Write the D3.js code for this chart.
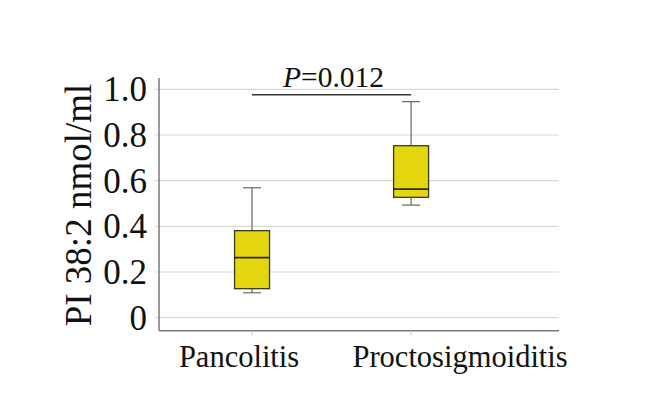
<!DOCTYPE html>
<html>
<head>
<meta charset="utf-8">
<script src="https://cdn.jsdelivr.net/npm/d3@7"></script>
<style>
  body { margin: 0; background: #fff; }
  text { font-family: "Liberation Serif", "Times New Roman", serif; fill: #111; }
</style>
</head>
<body>
<div id="chart"></div>
<script>
const categories = ["Pancolitis", "Proctosigmoiditis"];
const whiskerLow = [0.109, 0.493];
const q1 = [0.127, 0.527];
const median = [0.263, 0.563];
const q3 = [0.381, 0.753];
const whiskerHigh = [0.569, 0.946];
const yTicks = [0, 0.2, 0.4, 0.6, 0.8, 1.0];
const yTickLabels = ["0", "0.2", "0.4", "0.6", "0.8", "1.0"];
const pLabel = "0.012";
const pLineY = 0.976;

const W = 646, H = 414;
const svg = d3.select("#chart").append("svg")
    .attr("width", W)
    .attr("height", H);

// category i sits at i+1 on this scale
const x = d3.scaleLinear().domain([0.415, 2.93]).range([159, 559]);
const y = d3.scaleLinear().domain([-0.057, 1.05]).range([330.7, 77.9]);

// gridlines
svg.append("g")
    .selectAll("line")
    .data(yTicks)
    .join("line")
    .attr("x1", x.range()[0] - 4)
    .attr("x2", x.range()[1])
    .attr("y1", d => y(d))
    .attr("y2", d => y(d))
    .attr("stroke", "#d8d8d8")
    .attr("stroke-width", 1.2);

// y tick labels
svg.append("g")
    .selectAll("text")
    .data(yTicks)
    .join("text")
    .attr("x", 147)
    .attr("y", d => y(d))
    .attr("dy", "0.34em")
    .attr("text-anchor", "end")
    .attr("font-size", 35)
    .text((d, i) => yTickLabels[i]);

// axes lines
svg.append("line")
    .attr("x1", x.range()[0]).attr("x2", x.range()[0])
    .attr("y1", y.range()[1]).attr("y2", y.range()[0])
    .attr("stroke", "#777").attr("stroke-width", 1.5);
svg.append("line")
    .attr("x1", x.range()[0]).attr("x2", x.range()[1])
    .attr("y1", y.range()[0]).attr("y2", y.range()[0])
    .attr("stroke", "#777").attr("stroke-width", 1.5);

// x ticks + labels
const cat = svg.append("g")
    .selectAll("g")
    .data(categories)
    .join("g");
cat.append("line")
    .attr("x1", (d, i) => x(i + 1)).attr("x2", (d, i) => x(i + 1))
    .attr("y1", y.range()[0]).attr("y2", y.range()[0] + 5)
    .attr("stroke", "#ccc").attr("stroke-width", 1);
cat.append("text")
    .attr("x", (d, i) => x(i + 1) - (i === 0 ? 13 : -49))
    .attr("y", 366.5)
    .attr("text-anchor", "middle")
    .attr("font-size", 30.5)
    .text(d => d);

// y title
svg.append("text")
    .attr("transform", `translate(90.5, ${(83 + 327) / 2}) rotate(-90)`)
    .attr("text-anchor", "middle")
    .attr("font-size", 37)
    .text("PI 38:2 nmol/ml");

// boxes
const boxW = 35, capW = 18;
const boxes = svg.append("g")
    .selectAll("g")
    .data(categories)
    .join("g");
boxes.append("line")
    .attr("x1", (d, i) => x(i + 1)).attr("x2", (d, i) => x(i + 1))
    .attr("y1", (d, i) => y(whiskerHigh[i])).attr("y2", (d, i) => y(whiskerLow[i]))
    .attr("stroke", "#666").attr("stroke-width", 1.2);
boxes.selectAll(".cap")
    .data((d, i) => [[i, whiskerHigh[i]], [i, whiskerLow[i]]])
    .join("line")
    .attr("class", "cap")
    .attr("x1", d => x(d[0] + 1) - capW / 2).attr("x2", d => x(d[0] + 1) + capW / 2)
    .attr("y1", d => y(d[1])).attr("y2", d => y(d[1]))
    .attr("stroke", "#666").attr("stroke-width", 1.2);
boxes.append("rect")
    .attr("x", (d, i) => x(i + 1) - boxW / 2)
    .attr("width", boxW)
    .attr("y", (d, i) => y(q3[i]))
    .attr("height", (d, i) => y(q1[i]) - y(q3[i]))
    .attr("fill", "#e3d50e")
    .attr("stroke", "#3a3a1a").attr("stroke-width", 1.3);
boxes.append("line")
    .attr("x1", (d, i) => x(i + 1) - boxW / 2).attr("x2", (d, i) => x(i + 1) + boxW / 2)
    .attr("y1", (d, i) => y(median[i])).attr("y2", (d, i) => y(median[i]))
    .attr("stroke", "#2a2a10").attr("stroke-width", 1.8);

// significance bar
svg.append("line")
    .attr("x1", x(1)).attr("x2", x(2))
    .attr("y1", y(pLineY)).attr("y2", y(pLineY))
    .attr("stroke", "#333").attr("stroke-width", 1.5);
const pt = svg.append("text")
    .attr("x", (x(1) + x(2)) / 2 + 2)
    .attr("y", 87.3)
    .attr("text-anchor", "middle")
    .attr("font-size", 29.5);
pt.append("tspan").attr("font-style", "italic").text("P");
pt.append("tspan").text("=" + pLabel);
</script>
</body>
</html>
